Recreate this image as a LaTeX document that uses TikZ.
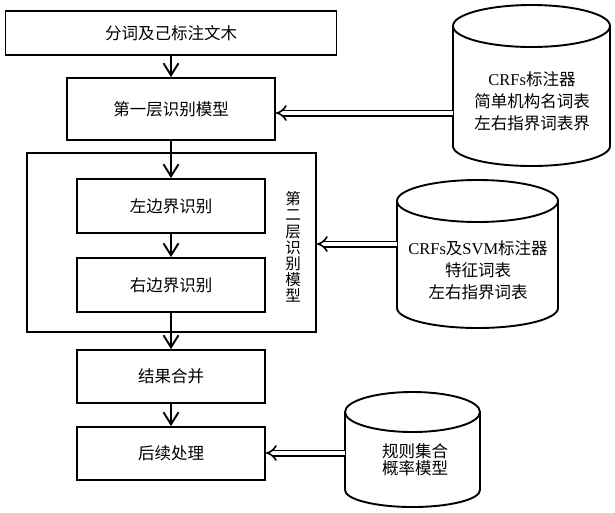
\documentclass[tikz,border=0pt]{standalone}
\usepackage{fontspec}
\setmainfont{Liberation Serif}
\newfontfamily\cjk{Noto Sans CJK SC}
\usetikzlibrary{arrows.meta}
\newcommand\cjkfs{\cjk\fontsize{16.5}{22}\selectfont}
\newcommand\cjkvert{\cjk\fontsize{15.5}{16.2}\selectfont}
\newcommand\cjktight{\cjk\fontsize{16.5}{17.5}\selectfont}
\begin{document}
\begin{tikzpicture}[x=1pt,y=-1pt,line width=1.9pt,
  box/.style={draw, rectangle, inner sep=0pt, font=\cjkfs},
  lbl/.style={inner sep=0pt, align=center},
  arr/.style={-{Straight Barb[length=12pt,width=15pt]}},
  dbl/.style={double, double distance=3.8pt, line width=1.6pt, -{Implies[length=8pt,width=16pt]}},
  cyl/.style={line width=1.9pt}]
\useasboundingbox (0,0) rectangle (615,512);
% main flow boxes
\node[box, minimum width=331pt, minimum height=44pt] (top) at (171,33) {分词及己标注文木};
\node[box, minimum width=208pt, minimum height=62pt] (m1) at (171,109) {第一层识别模型};
\node[box, minimum width=289pt, minimum height=179pt] (m2) at (171.5,242.5) {};
\node[box, minimum width=188pt, minimum height=54pt] (lb) at (171,206) {左边界识别};
\node[box, minimum width=188pt, minimum height=54pt] (rb) at (171,285) {右边界识别};
\node[lbl, font=\cjkvert] (m2t) at (293,247) {第\\二\\层\\识\\别\\模\\型};
\node[box, minimum width=188pt, minimum height=53pt] (mg) at (171,376.5) {结果合并};
\node[box, minimum width=188pt, minimum height=53pt] (pp) at (171,453.5) {后续处理};
% flow arrows
\draw[arr] (top) -- (m1);
\draw[arr] (m1) -- (lb);
\draw[arr] (lb) -- (rb);
\draw[arr] (rb) -- (mg);
\draw[arr] (mg) -- (pp);
% cylinder 1
\draw[cyl] (531.5,26) ellipse[x radius=78.5, y radius=21];
\draw[cyl] (453,26) -- (453,146) arc[start angle=180, end angle=0, x radius=78.5, y radius=20] -- (610,26);
\node[lbl, font=\cjkfs] (db1t) at (532,101) {{\rmfamily CRFs}标注器\\简单机构名词表\\左右指界词表界};
\coordinate (db1w) at (453,113);
% cylinder 2
\draw[cyl] (477.5,201) ellipse[x radius=80.5, y radius=21];
\draw[cyl] (397,201) -- (397,308) arc[start angle=180, end angle=0, x radius=80.5, y radius=20] -- (558,201);
\node[lbl, font=\cjkfs] (db2t) at (478,270.5) {{\rmfamily CRFs}及{\rmfamily SVM}标注器\\特征词表\\左右指界词表};
\coordinate (db2w) at (397,244);
% cylinder 3
\draw[cyl] (412.5,412) ellipse[x radius=67.5, y radius=20];
\draw[cyl] (345,412) -- (345,490) arc[start angle=180, end angle=0, x radius=67.5, y radius=17] -- (480,412);
\node[lbl, font=\cjktight] (db3t) at (415,459.5) {规则集合\\概率模型};
\coordinate (db3w) at (345,453);
% double arrows
\draw[dbl] (db1w) -- (m1.east |- db1w);
\draw[dbl] (db2w) -- (m2.east |- db2w);
\draw[dbl] (db3w) -- (pp.east |- db3w);
\end{tikzpicture}
\end{document}
